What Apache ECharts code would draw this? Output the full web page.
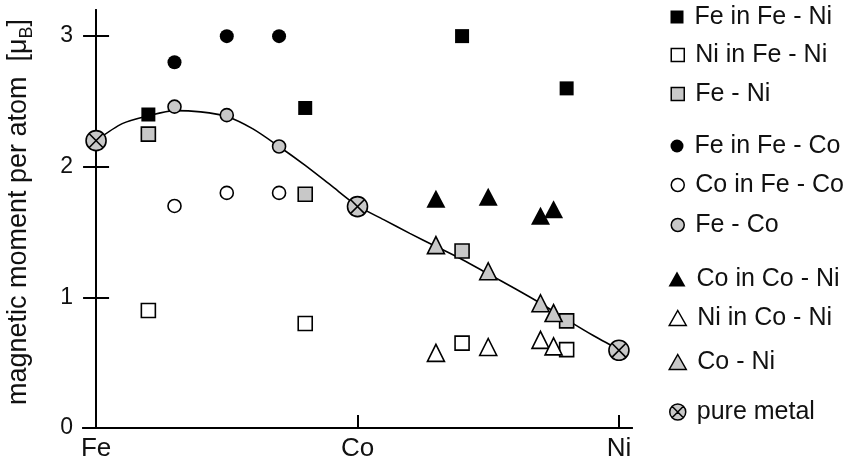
<!DOCTYPE html>
<html>
<head>
<meta charset="utf-8">
<script src="https://cdn.jsdelivr.net/npm/echarts@6/dist/echarts.min.js"></script>
<style>
  html, body { margin: 0; padding: 0; background: #fff; }
  #chart { width: 847px; height: 464px; }
</style>
</head>
<body>
<div id="chart"></div>
<script>
// x axis: 0 = Fe, 1 = Co, 2 = Ni
const elementTicks = [0, 1, 2];
const elementNames = ['Fe', 'Co', 'Ni'];
const yTickValues = [0, 1, 2, 3];

// Fe - Ni alloys
const feNiX = [0.2, 0.8, 1.4, 1.8];
const feInFeNi = [2.40, 2.45, 3.00, 2.60];
const niInFeNi = [0.90, 0.80, 0.65, 0.60];
const feNiAvg = [2.25, 1.79, 1.355, 0.82];

// Fe - Co alloys
const feCoX = [0.3, 0.5, 0.7];
const feInFeCo = [2.80, 3.00, 3.00];
const coInFeCo = [1.70, 1.80, 1.80];
const feCoAvg = [2.46, 2.395, 2.155];

// Co - Ni alloys
const coNiX = [1.3, 1.5, 1.7, 1.75];
const coInCoNi = [1.755, 1.77, 1.625, 1.675];
const niInCoNi = [0.575, 0.62, 0.675, 0.625];
const coNiAvg = [1.40, 1.20, 0.955, 0.88];

// pure metals
const pureX = [0, 1, 2];
const pureY = [2.20, 1.695, 0.595];

// Slater-Pauling curve
const curveX = [0, 0.1, 0.2, 0.3, 0.4, 0.5, 0.6, 0.7, 0.8, 0.9, 1.0, 1.1, 1.2, 1.3, 1.4, 1.5, 1.6, 1.7, 1.8, 1.9, 2.0];
const curveY = [2.20, 2.33, 2.39, 2.43, 2.42, 2.385, 2.29, 2.155, 2.01, 1.855, 1.70, 1.595, 1.49, 1.39, 1.29, 1.18, 1.07, 0.955, 0.83, 0.71, 0.60];

const FONT = 'Liberation Sans, Arial, sans-serif';
const INK = '#111';
const GRAY = '#c8c8c8';
const pureIcon = 'path://M0,10A10,10,0,1,1,20,10A10,10,0,1,1,0,10ZM2.93,2.93L17.07,17.07M17.07,2.93L2.93,17.07';

const zip = (xs, ys) => xs.map((x, i) => [x, ys[i]]);

const groups = [
  { name: 'Fe in Fe - Ni', x: feNiX, y: feInFeNi, symbol: 'rect', size: 14, fill: '#000', icon: [13, 13] },
  { name: 'Ni in Fe - Ni', x: feNiX, y: niInFeNi, symbol: 'rect', size: 14, fill: '#fff', icon: [13, 13] },
  { name: 'Fe - Ni', x: feNiX, y: feNiAvg, symbol: 'rect', size: 14, fill: GRAY, icon: [13, 13] },
  { name: 'Fe in Fe - Co', x: feCoX, y: feInFeCo, symbol: 'circle', size: 14, fill: '#000', icon: [13, 13] },
  { name: 'Co in Fe - Co', x: feCoX, y: coInFeCo, symbol: 'circle', size: 13, fill: '#fff', icon: [13, 13] },
  { name: 'Fe - Co', x: feCoX, y: feCoAvg, symbol: 'circle', size: 13, fill: GRAY, icon: [13, 13] },
  { name: 'Co in Co - Ni', x: coNiX, y: coInCoNi, symbol: 'triangle', size: [19, 18], fill: '#000', icon: [17, 15] },
  { name: 'Ni in Co - Ni', x: coNiX, y: niInCoNi, symbol: 'triangle', size: [17, 17], fill: '#fff', icon: [17, 15] },
  { name: 'Co - Ni', x: coNiX, y: coNiAvg, symbol: 'triangle', size: [17, 17], fill: GRAY, icon: [17, 15] },
  { name: 'pure metal', x: pureX, y: pureY, symbol: pureIcon, size: 20, fill: GRAY, icon: [16, 16] }
];

// legend row centres (px)
const legendRowY = [17, 55, 94, 146, 185, 225, 279, 318, 362, 412];

const chart = echarts.init(document.getElementById('chart'));

const series = [{
  type: 'line',
  name: 'curve',
  data: zip(curveX, curveY),
  smooth: 0.25,
  showSymbol: false,
  silent: true,
  z: 1,
  lineStyle: { color: '#000', width: 1.6 }
}];
groups.forEach(g => {
  series.push({
    type: 'scatter',
    name: g.name,
    data: zip(g.x, g.y),
    symbol: g.symbol,
    symbolSize: g.size,
    z: 3,
    itemStyle: {
      color: g.fill,
      borderColor: '#000',
      borderWidth: g.fill === '#000' ? 0 : 1.6,
      opacity: 1
    }
  });
});

const legends = groups.map((g, i) => ({
  orient: 'vertical',
  left: 677 - g.icon[0] / 2,
  top: legendRowY[i] - 13,
  padding: 0,
  itemWidth: g.icon[0],
  itemHeight: g.icon[1],
  selectedMode: false,
  data: [{
    name: g.name,
    itemStyle: {
      color: g.fill,
      borderColor: '#000',
      borderWidth: g.fill === '#000' ? 0 : 1.5
    }
  }],
  textStyle: {
    fontFamily: FONT,
    fontSize: 25,
    lineHeight: 26,
    color: INK,
    padding: [0, 0, 0, 6]
  }
}));

chart.setOption({
  animation: false,
  backgroundColor: '#fff',
  grid: { left: 83, right: 215, top: 10, bottom: 36, outerBoundsMode: 'none', containLabel: false },
  legend: legends,
  xAxis: [{
    type: 'value',
    min: -0.05,
    max: 2.05,
    position: 'bottom',
    axisLine: { lineStyle: { color: '#000', width: 2 } },
    axisTick: { inside: true, length: 13, customValues: elementTicks, lineStyle: { color: '#000', width: 2 } },
    axisLabel: {
      customValues: elementTicks,
      formatter: v => elementNames[elementTicks.indexOf(Math.round(v))] || '',
      fontFamily: FONT, fontSize: 26, color: INK, margin: 8
    },
    splitLine: { show: false }
  }, {
    type: 'value',
    min: -0.05,
    max: 2.05,
    position: 'top',
    axisLine: { show: true, lineStyle: { color: '#000', width: 2 } },
    axisTick: { show: false },
    axisLabel: { show: false },
    splitLine: { show: false }
  }],
  yAxis: [{
    type: 'value',
    min: 0,
    max: 3.2,
    axisLine: { show: true, lineStyle: { color: '#000', width: 2 } },
    axisTick: { inside: true, length: 13, customValues: [1, 2, 3], lineStyle: { color: '#000', width: 2 } },
    axisLabel: { customValues: yTickValues, fontFamily: FONT, fontSize: 23, color: INK, margin: 10 },
    splitLine: { show: false },
    name: 'magnetic moment per atom  [μ{sub|B}]',
    nameLocation: 'middle',
    nameRotate: 90,
    nameGap: 47,
    nameTextStyle: {
      fontFamily: FONT, fontSize: 27, color: INK, padding: [0, 0, 0, 14],
      rich: { sub: { fontFamily: FONT, fontSize: 18, color: INK, verticalAlign: 'bottom', lineHeight: 34 } }
    }
  }, {
    type: 'value',
    min: 0,
    max: 3.2,
    position: 'right',
    axisLine: { show: true, lineStyle: { color: '#000', width: 2 } },
    axisTick: { inside: true, length: 13, customValues: [1, 2, 3], lineStyle: { color: '#000', width: 2 } },
    axisLabel: { show: false },
    splitLine: { show: false }
  }],
  series: series
});
</script>
</body>
</html>
